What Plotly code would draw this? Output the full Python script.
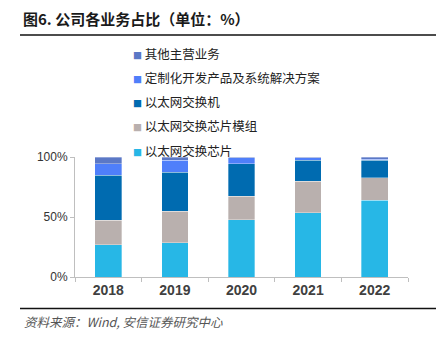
import plotly.graph_objects as go

# 各业务占比（%），按年份
years = ["2018", "2019", "2020", "2021", "2022"]
chip = [26.8, 28.7, 47.8, 53.6, 64.1]          # 以太网交换芯片
module = [20.7, 26.3, 19.6, 26.4, 18.8]        # 以太网交换芯片模组
switch = [37.3, 32.5, 27.1, 17.2, 14.6]        # 以太网交换机
custom = [9.7, 9.7, 5.0, 2.3, 0.8]             # 定制化开发产品及系统解决方案
other = [5.5, 2.8, 0.5, 0.5, 1.7]              # 其他主营业务

series = [
    ("以太网交换芯片", chip, "#27B7E6"),
    ("以太网交换芯片模组", module, "#B9B0AE"),
    ("以太网交换机", switch, "#006BB0"),
    ("定制化开发产品及系统解决方案", custom, "#4F7FFA"),
    ("其他主营业务", other, "#5B78C6"),
]
y_ticks = [0, 50, 100]
y_tick_text = ["0%", "50%", "100%"]

W, H = 440, 341
L, R, T, B = 75, 32, 157, 64
pw, ph = W - L - R, H - T - B


def px(x):
    return (x - L) / pw


def py(y):
    return (H - B - y) / ph


fig = go.Figure()
for name, vals, color in series:
    fig.add_trace(go.Bar(
        x=years, y=vals, name=name, marker_color=color,
        marker_line=dict(width=0.6, color="rgba(255,255,255,0.55)"),
        width=0.4, showlegend=False,
    ))

# legend entries, top to bottom: last stacked segment first
for i, (name, vals, color) in enumerate(reversed(series)):
    label = f'<span style="font-size:9px;color:{color}">■</span> {name}'
    fig.add_trace(go.Scatter(
        x=[None], y=[None], mode="lines", name=label,
        line=dict(color="rgba(0,0,0,0)", width=0),
        legendgroup=f"g{i}", showlegend=True,
    ))

font_cjk = "Noto Sans CJK SC, Noto Sans, sans-serif"

fig.update_layout(
    width=W, height=H,
    margin=dict(l=L, r=R, t=T, b=B),
    paper_bgcolor="white", plot_bgcolor="white",
    barmode="stack", bargap=0.6,
    font=dict(family=font_cjk, color="#333333"),
    legend=dict(
        x=px(93), y=py(39), xanchor="left", yanchor="top",
        traceorder="grouped", tracegroupgap=5,
        font=dict(size=12.5, color="#222222", family=font_cjk),
        itemwidth=30, bgcolor="rgba(0,0,0,0)",
    ),
    xaxis=dict(
        type="category", showline=True, linecolor="#BFBFBF", linewidth=1,
        ticks="outside", tickson="boundaries", ticklen=4, tickcolor="#BFBFBF",
        tickfont=dict(size=14, color="#404040", family="Liberation Sans, Arial, sans-serif"),
        showgrid=False, range=[-0.5, 4.5],
    ),
    yaxis=dict(
        range=[0, 100], tickvals=y_ticks, ticktext=y_tick_text,
        showline=True, linecolor="#BFBFBF", linewidth=1,
        ticks="outside", ticklen=4, tickcolor="#BFBFBF",
        tickfont=dict(size=12, color="#333333", family="Liberation Sans, Arial, sans-serif"),
        showgrid=False, zeroline=False,
    ),
)

fig.update_xaxes(tickprefix="<b>", ticksuffix="</b>")

# 标题与出处
fig.add_annotation(
    text="<b>图6. 公司各业务占比（单位：%）</b>", xref="paper", yref="paper",
    x=px(21), y=py(18), xanchor="left", yanchor="middle", showarrow=False,
    font=dict(size=15, color="#1A1A1A", family=font_cjk),
)
fig.add_annotation(
    text="<i>资料来源：Wind, 安信证券研究中心</i>", xref="paper", yref="paper",
    x=px(22), y=py(321), xanchor="left", yanchor="middle", showarrow=False,
    font=dict(size=12.5, color="#555555", family=font_cjk),
)
for yy in (35, 308.5):
    fig.add_shape(
        type="line", xref="paper", yref="paper",
        x0=px(20), x1=px(436), y0=py(yy), y1=py(yy),
        line=dict(color="#111111", width=1.6),
    )

fig.write_html("out.html")
